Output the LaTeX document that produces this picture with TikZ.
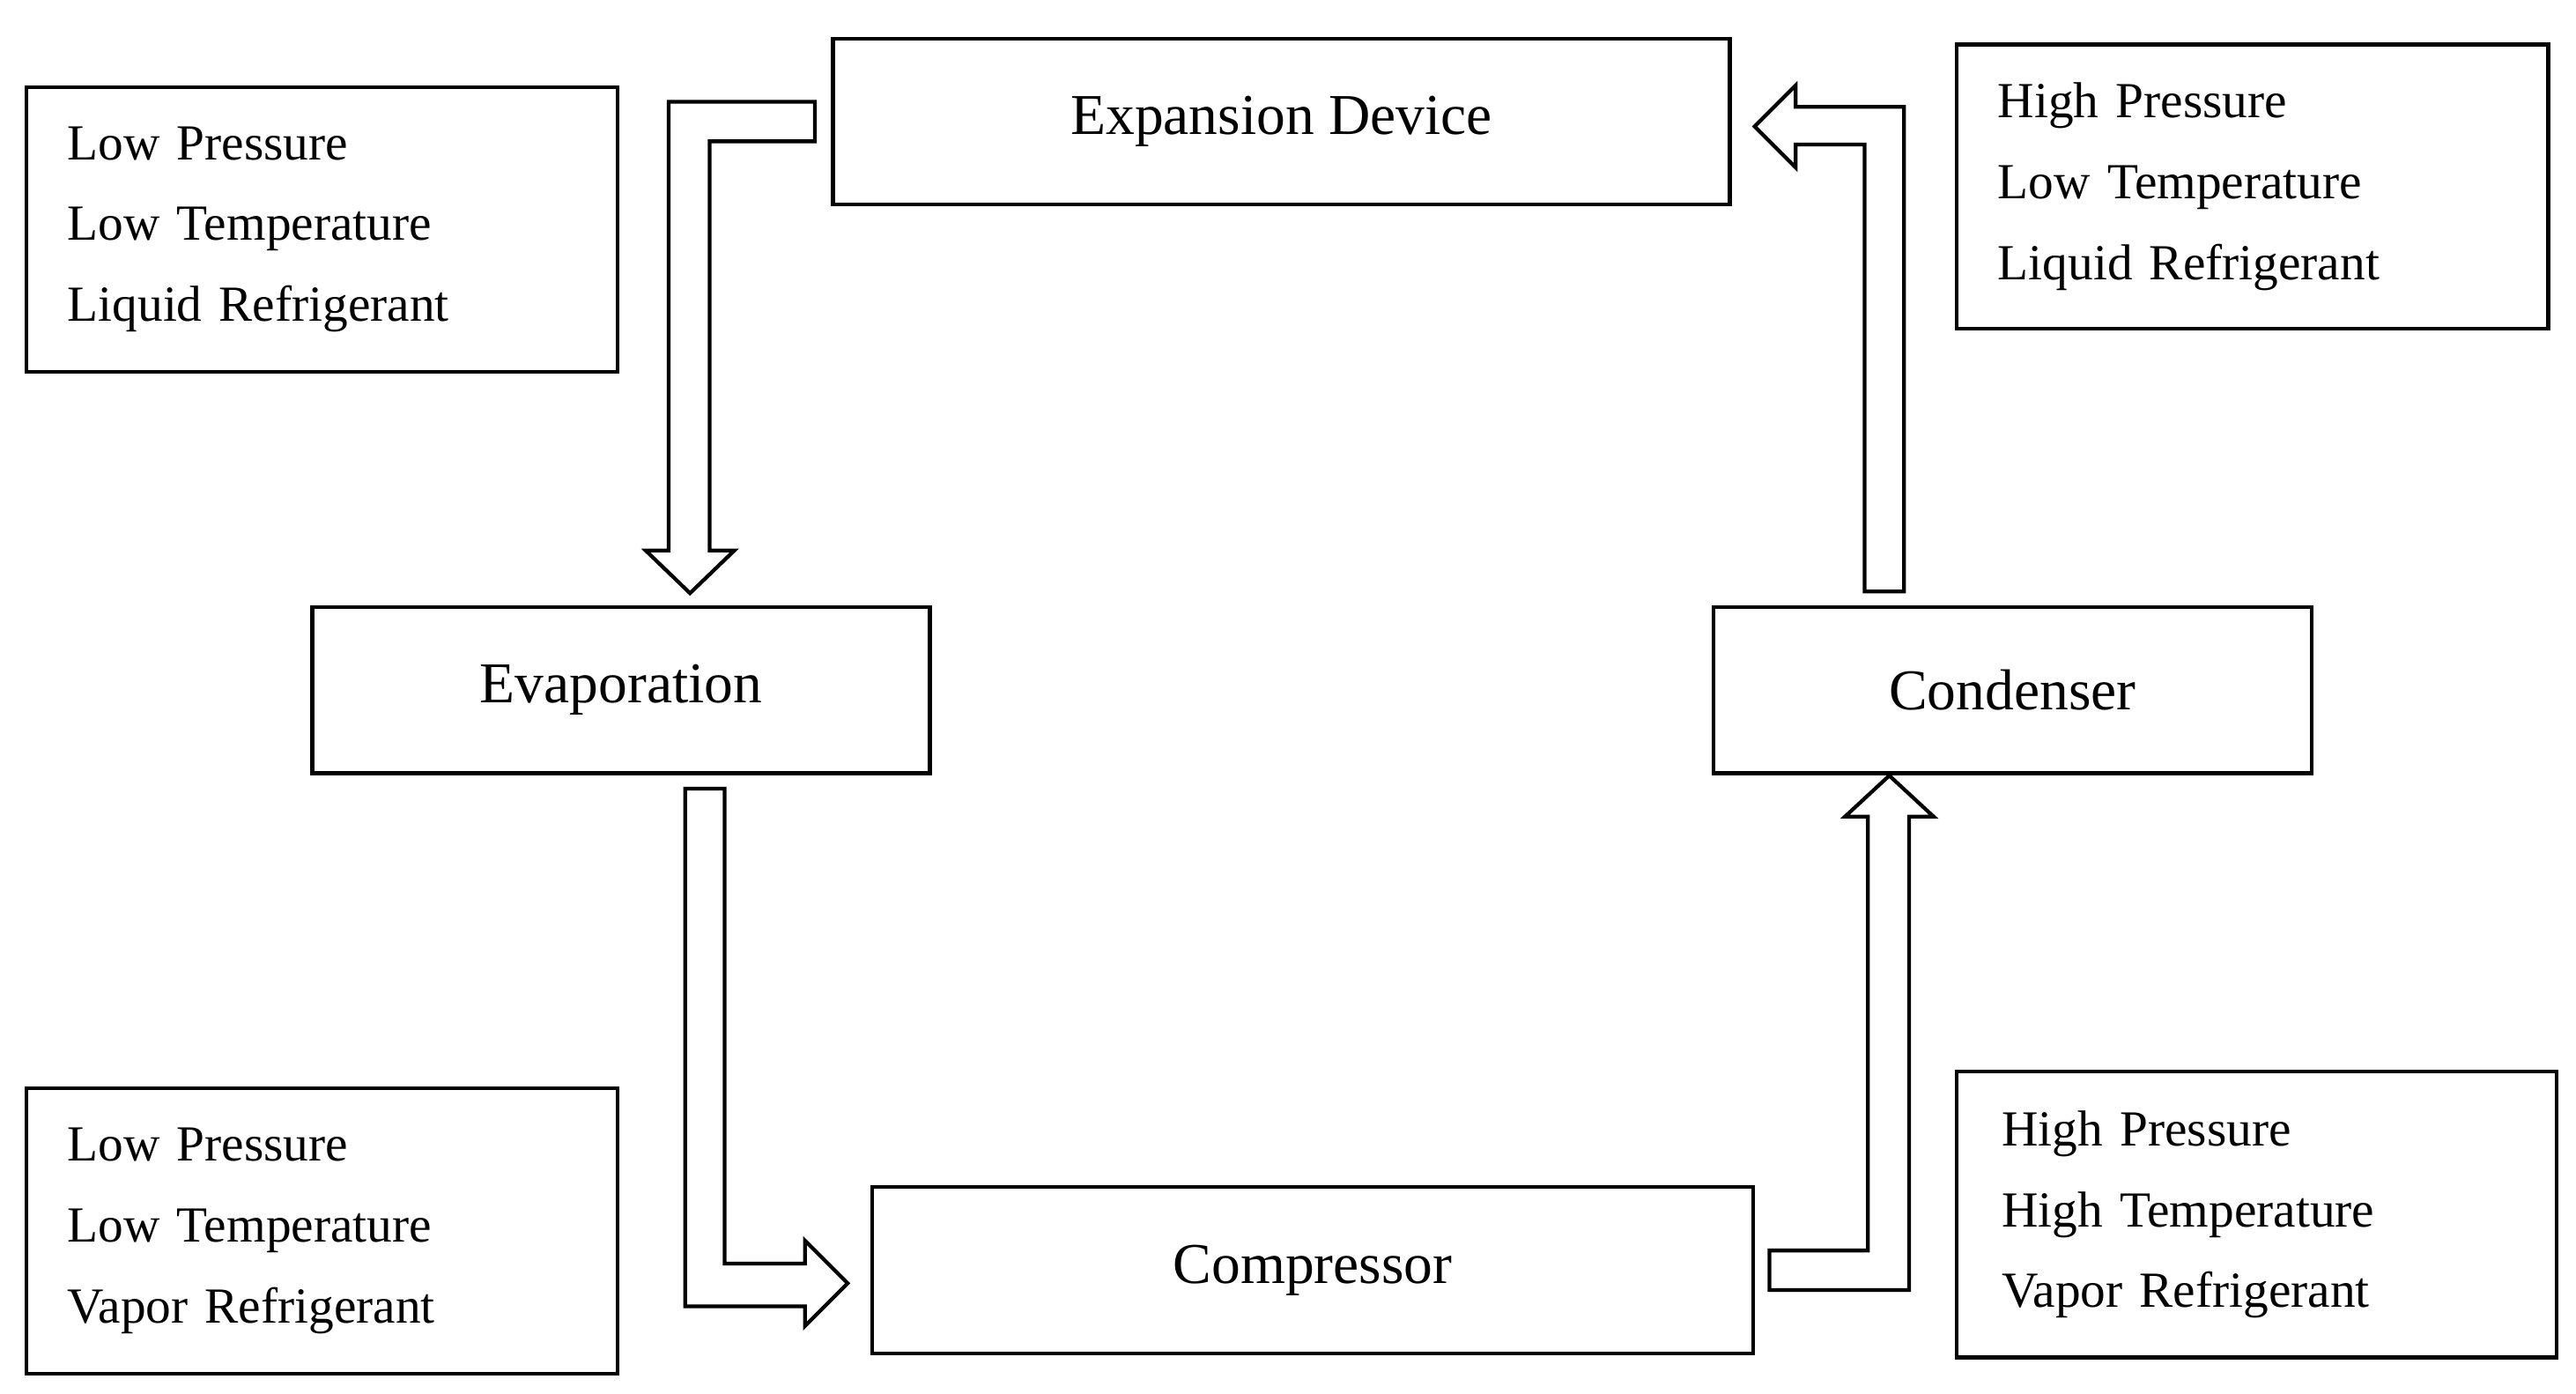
\documentclass[tikz,border=0pt]{standalone}
\usepackage{fontspec}
\setmainfont{Liberation Serif}
\begin{document}
\begin{tikzpicture}
[x=0.02cm,y=-0.02cm,line width=1.3pt,
every node/.style={draw,rectangle,line width=1.3pt,font=\fontsize{20}{24}\selectfont,minimum height=2.02cm},
info/.style={align=left,anchor=north west,text width=6.2cm,inner xsep=0.5cm,font=\fontsize{17.5}{28}\selectfont}]
\useasboundingbox (0,0) rectangle (1568,848);
\node[minimum width=10.92cm] (exp) at (780,74) {Expansion Device};
\node[minimum width=7.52cm] (evap) at (378,420) {Evaporation};
\node[minimum width=7.28cm] (cond) at (1225,420) {Condenser};
\node[minimum width=10.72cm] (comp) at (799,773) {Compressor};
\node[info,minimum width=7.02cm,minimum height=3.46cm] (tl) at (15,52) {Low Pressure\\Low Temperature\\Liquid Refrigerant};
\node[info,minimum width=6.96cm,minimum height=3.46cm] (tr) at (1190,26) {High Pressure\\Low Temperature\\Liquid Refrigerant};
\node[info,minimum width=7.18cm,minimum height=3.48cm] (bl) at (15,661) {Low Pressure\\Low Temperature\\Vapor Refrigerant};
\node[info,minimum width=7.30cm,minimum height=3.48cm] (br) at (1190,651) {High Pressure\\High Temperature\\Vapor Refrigerant};
% block arrows
\draw[line join=miter] (496,62) -- (407,62) -- (407,335) -- (393,335) -- (420,361) -- (447,335) -- (432,335) -- (432,86) -- (496,86) -- cycle;
\draw[line join=miter] (417,480) -- (441,480) -- (441,769) -- (490,769) -- (490,755) -- (516,781) -- (490,807) -- (490,795) -- (417,795) -- cycle;
\draw[line join=miter] (1077,785) -- (1162,785) -- (1162,497) -- (1177,497) -- (1150,472) -- (1123,497) -- (1137,497) -- (1137,761) -- (1077,761) -- cycle;
\draw[line join=miter] (1135,360) -- (1159,360) -- (1159,65) -- (1093,65) -- (1093,52) -- (1068,77) -- (1093,102) -- (1093,88) -- (1135,88) -- cycle;
\end{tikzpicture}
\end{document}
